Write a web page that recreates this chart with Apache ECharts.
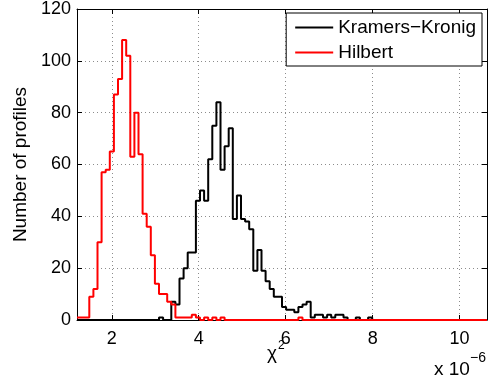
<!DOCTYPE html>
<html>
<head>
<meta charset="utf-8">
<script src="https://cdn.jsdelivr.net/npm/echarts@6/dist/echarts.min.js"></script>
<style>
  html, body { margin: 0; padding: 0; background: #fff; }
  #chart { width: 496px; height: 383px; }
</style>
</head>
<body>
<div id="chart"></div>
<script>
// Histogram range (units of 1e-6) shared by both methods, 100 equal bins
const xMin = 1.2;
const xMax = 10.63;

// Counts per bin, Kramers–Kronig reconstruction
const kkCounts = [
  0, 0, 0, 0, 0, 0, 0, 0, 0, 0,
  0, 0, 0, 0, 0, 0, 0, 0, 0, 0,
  1, 0, 0, 7, 6, 16, 20, 26, 26, 46,
  50, 46, 62, 75, 84, 58, 67, 74, 39, 48,
  39, 38, 35, 19, 27, 19, 15, 12, 9, 9,
  5, 4, 4, 3, 5, 6, 7, 1, 2, 2,
  1, 2, 1, 2, 2, 1, 0, 0, 1, 0,
  0, 1, 0, 0, 0, 0, 0, 0, 0, 0,
  0, 0, 0, 0, 0, 0, 0, 0, 0, 0,
  0, 0, 0, 0, 0, 0, 0, 0, 0, 0
];

// Counts per bin, Hilbert reconstruction
const hilbertCounts = [
  1, 1, 1, 9, 12, 30, 57, 58, 65, 87,
  93, 108, 102, 63, 80, 64, 41, 36, 25, 14,
  10, 10, 7, 6, 1, 1, 1, 1, 2, 1,
  0, 1, 0, 1, 0, 1, 0, 0, 0, 0,
  0, 0, 0, 0, 0, 0, 0, 0, 0, 0,
  0, 0, 0, 0, 1, 0, 0, 0, 0, 0,
  0, 0, 0, 0, 0, 0, 0, 0, 0, 0,
  0, 0, 0, 0, 0, 0, 0, 0, 0, 0,
  0, 0, 0, 0, 0, 0, 0, 0, 0, 0,
  0, 0, 0, 0, 0, 0, 0, 0, 0, 0
];

const seriesNames = ['Kramers\u2212Kronig', 'Hilbert'];
const yTicks = { min: 0, max: 120, step: 20 };

// Stairs: one point per bin left edge, plus the closing right edge
function stairs(counts) {
  const w = (xMax - xMin) / counts.length;
  const pts = counts.map((c, i) => [xMin + i * w, c]);
  pts.push([xMax, counts[counts.length - 1]]);
  return pts;
}

const FONT = 'Liberation Sans, Arial, Helvetica, sans-serif';
const chart = echarts.init(document.getElementById('chart'), null, { renderer: 'canvas' });

const tickStyle = { show: true, inside: true, length: 5, lineStyle: { color: '#000', width: 1 } };
const lineStyleAxis = { show: true, onZero: false, lineStyle: { color: '#000', width: 1 } };
const gridLine = { show: true, lineStyle: { color: '#8c8c8c', width: 1, type: [1, 3] } };

chart.setOption({
  animation: false,
  backgroundColor: '#fff',
  grid: { left: 77, right: 9, top: 7, bottom: 63, containLabel: false },
  legend: {
    orient: 'vertical',
    right: 14,
    top: 13,
    backgroundColor: '#fff',
    borderColor: '#000',
    borderWidth: 1,
    borderRadius: 0,
    padding: [5, 6, 4, 9],
    itemGap: 6,
    itemWidth: 38,
    itemHeight: 2,
    icon: 'rect',
    textStyle: { fontFamily: FONT, fontSize: 19, color: '#000' },
    data: seriesNames
  },
  xAxis: [{
    type: 'value',
    min: xMin,
    max: xMax,
    splitNumber: 5,
    axisLine: lineStyleAxis,
    axisTick: tickStyle,
    splitLine: gridLine,
    axisLabel: {
      showMinLabel: false, showMaxLabel: false,
      margin: 10, fontFamily: FONT, fontSize: 18, color: '#000'
    }
  }, {
    type: 'value',
    position: 'top',
    min: xMin,
    max: xMax,
    splitNumber: 5,
    axisLine: lineStyleAxis,
    axisTick: tickStyle,
    splitLine: { show: false },
    axisLabel: { show: false }
  }],
  yAxis: [{
    type: 'value',
    min: yTicks.min,
    max: yTicks.max,
    interval: yTicks.step,
    axisLine: lineStyleAxis,
    axisTick: tickStyle,
    splitLine: gridLine,
    axisLabel: { margin: 6, fontFamily: FONT, fontSize: 18, color: '#000' },
    name: 'Number of profiles',
    nameLocation: 'middle',
    nameGap: 44,
    nameTextStyle: { fontFamily: FONT, fontSize: 19, color: '#000' }
  }, {
    type: 'value',
    position: 'right',
    min: yTicks.min,
    max: yTicks.max,
    interval: yTicks.step,
    axisLine: lineStyleAxis,
    axisTick: tickStyle,
    splitLine: { show: false },
    axisLabel: { show: false }
  }],
  graphic: [
    { type: 'text', left: 267, top: 344,
      style: { text: '\u03c7', font: '19px ' + FONT, fill: '#000' } },
    { type: 'text', left: 278, top: 340,
      style: { text: '2', font: '12px ' + FONT, fill: '#000' } },
    { type: 'text', left: 434, top: 360,
      style: { text: 'x 10', font: '19px ' + FONT, fill: '#000' } },
    { type: 'text', left: 470, top: 351,
      style: { text: '\u22126', font: '14px ' + FONT, fill: '#000' } }
  ],
  series: [{
    name: seriesNames[0],
    type: 'line',
    step: 'end',
    data: stairs(kkCounts),
    showSymbol: false,
    symbol: 'none',
    lineStyle: { color: '#000', width: 2 },
    itemStyle: { color: '#000' },
    xAxisIndex: 0, yAxisIndex: 0,
    z: 3
  }, {
    name: seriesNames[1],
    type: 'line',
    step: 'end',
    data: stairs(hilbertCounts),
    showSymbol: false,
    symbol: 'none',
    lineStyle: { color: '#ff0000', width: 2 },
    itemStyle: { color: '#ff0000' },
    xAxisIndex: 0, yAxisIndex: 0,
    z: 4
  }]
});
</script>
</body>
</html>
